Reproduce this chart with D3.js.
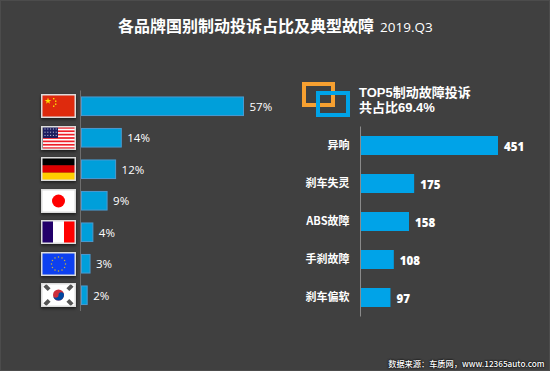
<!DOCTYPE html>
<html>
<head>
<meta charset="utf-8">
<script src="https://cdn.jsdelivr.net/npm/d3@7"></script>
<style>
html, body { margin: 0; padding: 0; background: #404040; }
svg { display: block; }
text { font-family: "Noto Sans CJK SC", "Noto Sans", sans-serif; fill: #fff; }
</style>
</head>
<body>
<svg id="chart" width="550" height="371"></svg>
<script>
var countries = ["cn", "us", "de", "jp", "fr", "eu", "kr"];
var countryShare = [57, 14, 12, 9, 4, 3, 2];
var faults = ["异响", "刹车失灵", "ABS故障", "手刹故障", "刹车偏软"];
var faultCounts = [451, 175, 158, 108, 97];

var svg = d3.select("#chart");

svg.append("rect").attr("width", 550).attr("height", 371).attr("fill", "#404040");
// thin lighter frame round the image
svg.append("rect").attr("x", 0.5).attr("y", 0.5).attr("width", 549).attr("height", 370)
    .attr("fill", "none").attr("stroke", "#4c4c4c");

var defs = svg.append("defs");
var shadow = defs.append("filter").attr("id", "flagShadow")
    .attr("x", "-20%").attr("y", "-20%").attr("width", "140%").attr("height", "150%");
shadow.append("feDropShadow").attr("dx", 0).attr("dy", 1.5).attr("stdDeviation", 1.5)
    .attr("flood-color", "#000").attr("flood-opacity", 0.6);

// title
var title = svg.append("text").attr("x", 118).attr("y", 32)
    .style("font-size", "16px").style("font-weight", 700);
title.append("tspan").text("各品牌国别制动投诉占比及典型故障");
title.append("tspan").attr("dx", 6).style("font-size", "13.5px").style("font-weight", 400)
    .style("font-family", "'Open Sans', sans-serif").text("2019.Q3");

// left chart
var xLeft = d3.scaleLinear().domain([0, 57]).range([81, 243]);
var yLeft = d3.scaleBand().domain(countries).range([90.5, 311]).paddingInner(0.41).paddingOuter(0.205);

svg.append("line").attr("x1", 80.5).attr("x2", 80.5).attr("y1", yLeft.range()[0]).attr("y2", yLeft.range()[1])
    .attr("stroke", "#6e6e6e");

svg.append("g").selectAll("rect").data(countries).join("rect")
    .attr("x", xLeft(0) + 0.5)
    .attr("y", d => yLeft(d))
    .attr("width", (d, i) => xLeft(countryShare[i]) - xLeft(0))
    .attr("height", yLeft.bandwidth())
    .attr("fill", "#009fda")
    .attr("stroke", "#4a9ad0");

svg.append("g").selectAll("text").data(countries).join("text")
    .attr("x", (d, i) => xLeft(countryShare[i]) + 6.5)
    .attr("y", d => yLeft(d) + yLeft.bandwidth() / 2 + 4.5)
    .style("font-size", "11.5px")
    .style("font-family", "'Open Sans', sans-serif")
    .text((d, i) => countryShare[i] + "%");

// flags, 33 x 22 inside the frame
var flagW = 33, flagH = 22;

function stars(g, cx, cy, r, n, size, color) {
    d3.range(n).forEach(function (i) {
        var a = i / n * 2 * Math.PI;
        g.append("rect")
            .attr("x", cx + r * Math.cos(a) - size / 2)
            .attr("y", cy + r * Math.sin(a) - size / 2)
            .attr("width", size).attr("height", size)
            .attr("fill", color);
    });
}

var flagDraw = {
    cn: function (g) {
        g.append("rect").attr("width", flagW).attr("height", flagH).attr("fill", "#de2910");
        g.append("path").attr("transform", "translate(6,6)")
            .attr("d", d3.symbol(d3.symbolStar, 14)).attr("fill", "#ffde00");
        [[11, 3], [13, 5.5], [13, 8.5], [11, 10.5]].forEach(function (p) {
            g.append("rect").attr("x", p[0]).attr("y", p[1]).attr("width", 1.4).attr("height", 1.4).attr("fill", "#ffde00");
        });
    },
    us: function (g) {
        g.append("rect").attr("x", 1).attr("width", flagW - 1).attr("height", flagH).attr("fill", "#fff");
        d3.range(7).forEach(function (i) {
            g.append("rect").attr("x", 1).attr("y", i * 22 / 6.5).attr("width", flagW - 1).attr("height", 22 / 13).attr("fill", "#ee1c25");
        });
        g.append("rect").attr("x", 1).attr("width", 15).attr("height", 11).attr("fill", "#1d1f5e");
        d3.range(3).forEach(function (r) {
            d3.range(5).forEach(function (c) {
                g.append("rect").attr("x", 2.5 + c * 2.8).attr("y", 1.5 + r * 3.2).attr("width", 1).attr("height", 1).attr("fill", "#c9c9e0");
            });
        });
    },
    de: function (g) {
        ["#000", "#dd0000", "#ffce00"].forEach(function (c, i) {
            g.append("rect").attr("y", i * flagH / 3).attr("width", flagW).attr("height", flagH / 3).attr("fill", c);
        });
    },
    jp: function (g) {
        g.append("rect").attr("width", flagW).attr("height", flagH).attr("fill", "#fff");
        g.append("circle").attr("cx", flagW / 2).attr("cy", flagH / 2).attr("r", 6.5).attr("fill", "#f00");
    },
    fr: function (g) {
        ["#21066b", "#fff", "#f00"].forEach(function (c, i) {
            g.append("rect").attr("x", i * flagW / 3).attr("width", flagW / 3).attr("height", flagH).attr("fill", c);
        });
    },
    eu: function (g) {
        g.append("rect").attr("width", flagW).attr("height", flagH).attr("fill", "#0a40f0");
        stars(g, flagW / 2, flagH / 2, 7, 12, 1.3, "#c9b03a");
    },
    kr: function (g) {
        g.append("rect").attr("width", flagW).attr("height", flagH).attr("fill", "#fff");
        var cx = flagW / 2, cy = flagH / 2;
        g.append("circle").attr("cx", cx).attr("cy", cy).attr("r", 5.5).attr("fill", "#cd2e3a");
        g.append("path").attr("d", `M${cx - 5.5},${cy} A5.5,5.5 0 0 0 ${cx + 5.5},${cy} A2.75,2.75 0 0 0 ${cx},${cy} A2.75,2.75 0 0 1 ${cx - 5.5},${cy}Z`)
            .attr("fill", "#0047a0");
        [[-11.5, -7.5, 45], [11.5, -7.5, -45], [-11.5, 7.5, -45], [11.5, 7.5, 45]].forEach(function (p) {
            g.append("rect").attr("x", -3).attr("y", -2).attr("width", 6).attr("height", 4)
                .attr("transform", `translate(${cx + p[0]},${cy + p[1]}) rotate(${p[2]})`)
                .attr("fill", "#555");
        });
    }
};

svg.append("g").selectAll("g").data(countries).join("g")
    .attr("transform", d => `translate(42,${Math.round(yLeft(d) + yLeft.bandwidth() / 2 - flagH / 2)})`)
    .attr("filter", "url(#flagShadow)")
    .each(function (d) {
        var g = d3.select(this);
        flagDraw[d](g);
        g.append("rect").attr("x", -0.25).attr("y", -0.25).attr("width", flagW + 0.5).attr("height", flagH + 0.5)
            .attr("fill", "none").attr("stroke", "#dcdcdc").attr("stroke-width", 1.5);
    });

// top5 heading
svg.append("rect").attr("x", 304).attr("y", 84).attr("width", 29).attr("height", 21)
    .attr("fill", "none").attr("stroke", "#f7a030").attr("stroke-width", 4);
svg.append("rect").attr("x", 318).attr("y", 93).attr("width", 30).attr("height", 22)
    .attr("fill", "none").attr("stroke", "#00a3e8").attr("stroke-width", 4);
var heading = svg.append("text").attr("y", 96.5)
    .style("font-family", "'Liberation Sans', 'Noto Sans CJK SC', sans-serif")
    .style("font-size", "13px").style("font-weight", 700);
heading.append("tspan").attr("x", 359).text("TOP5制动故障投诉");
heading.append("tspan").attr("x", 359).attr("dy", 15.5).text("共占比69.4%");

// right chart
var xRight = d3.scaleLinear().domain([0, 451]).range([361, 498]);
var yRight = d3.scaleBand().domain(faults).range([126.5, 316.5]).paddingInner(0.5).paddingOuter(0.25);

svg.append("line").attr("x1", 360.5).attr("x2", 360.5).attr("y1", yRight.range()[0]).attr("y2", yRight.range()[1])
    .attr("stroke", "#8a8a8a");

svg.append("g").selectAll("rect").data(faults).join("rect")
    .attr("x", xRight(0))
    .attr("y", d => yRight(d))
    .attr("width", (d, i) => xRight(faultCounts[i]) - xRight(0))
    .attr("height", yRight.bandwidth())
    .attr("fill", "#00a3e8");

svg.append("g").selectAll("text").data(faults).join("text")
    .attr("x", (d, i) => xRight(faultCounts[i]) + 6)
    .attr("y", d => yRight(d) + yRight.bandwidth() / 2 + 5)
    .style("font-size", "11.5px").style("font-weight", 800)
    .style("font-family", "'Open Sans', sans-serif")
    .text((d, i) => faultCounts[i]);

svg.append("g").selectAll("text").data(faults).join("text")
    .attr("x", 349.5)
    .attr("y", d => yRight(d) + yRight.bandwidth() / 2 + 3.5)
    .attr("text-anchor", "end")
    .style("font-size", "11px").style("font-weight", 700)
    .text(d => d);

// source, with the dark halo it has in the original
svg.append("text").attr("x", 544.5).attr("y", 366.5).attr("text-anchor", "end")
    .style("font-size", "8.2px").style("font-weight", 500)
    .style("text-shadow", "0 0 2px #000, 0 0 2px #000")
    .text("数据来源：车质网，www.12365auto.com");
</script>
</body>
</html>
